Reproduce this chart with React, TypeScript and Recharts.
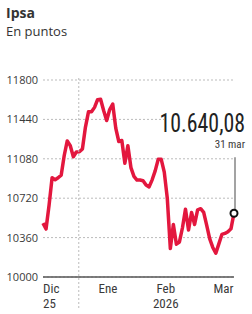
import { LineChart, Line, XAxis, YAxis, CartesianGrid, ReferenceDot } from "recharts";

// Ipsa closing values, one per trading session
const VALUES = [
  10492, 10438, 10656, 10907, 10889, 10907, 10930, 11110, 11243, 11200,
  11098, 11142, 11144, 11170, 11370, 11509, 11509, 11550, 11620, 11624,
  11521, 11430, 11530, 11580, 11360, 11238, 11247, 11040, 11200, 11000,
  10920, 10886, 10886, 10880, 10840, 10823, 10888, 10970, 11075, 11075,
  10958, 10718, 10260, 10480, 10300, 10320, 10450, 10620, 10430, 10590,
  10480, 10614, 10624, 10590, 10472, 10348, 10270, 10218, 10303, 10389,
  10398, 10414, 10440, 10583,
];

const Y_TICKS = [10000, 10360, 10720, 11080, 11440, 11800];

// month ticks: position in sessions, label lines, anchor
const X_TICK_POS = [0, 21.4, 40.5, 59.5];
const X_TICK_LINES = [["Dic", "25"], ["Ene"], ["Feb", "2026"], ["Mar"]];
const X_TICK_ANCHOR = ["start", "middle", "middle", "middle"];
const YEAR_BREAK = 11.8;

const LAST_LABEL = "10.640,08";
const LAST_DATE = "31 mar";

const data = VALUES.map((v, i) => ({ i, v }));

const RED = "#e3173e";
const TEXT = "#3a3a3a";
const NARROW = "'Liberation Sans Narrow', 'Roboto Condensed', Roboto, sans-serif";

function MonthTick(props: any) {
  const { x, y, payload } = props;
  if (payload.value === YEAR_BREAK) {
    return (
      <line x1={x} x2={x} y1={y - 199} y2={y + 33} stroke="#bbb" strokeDasharray="2 2" />
    );
  }
  const idx = X_TICK_POS.indexOf(payload.value);
  if (idx < 0) return null;
  return (
    <text x={x} y={y} textAnchor={X_TICK_ANCHOR[idx]} fill={TEXT} fontSize={13} fontFamily={NARROW}>
      {X_TICK_LINES[idx].map((t, k) => (
        <tspan key={k} x={x} dy={k === 0 ? 16 : 15}>
          {t}
        </tspan>
      ))}
    </text>
  );
}

function Callout(props: any) {
  const { cx, cy } = props;
  return (
    <g>
      <rect x={cx - 70} y={cy - 102} width={82} height={26} fill="#fff" />
      <line x1={cx + 1} x2={cx + 1} y1={cy - 56} y2={cy} stroke="#666" strokeWidth={1.2} />
      <circle cx={cx} cy={cy} r={3.5} fill="#fff" stroke="#111" strokeWidth={2} />
      <g transform={`translate(${cx + 11}, ${cy - 81}) scale(0.84, 1)`}>
        <text x={0} y={0} textAnchor="end" fontSize={26} fill="#222" fontFamily={NARROW}>
          {LAST_LABEL}
        </text>
      </g>
      <text x={cx + 11} y={cy - 65} textAnchor="end" fontSize={11} fill={TEXT} fontFamily={NARROW}>
        {LAST_DATE}
      </text>
    </g>
  );
}

export default function App() {
  return (
    <div style={{ position: "absolute", top: 0, left: 0, width: 252, height: 314, background: "#fff" }}>
      <div
        style={{
          position: "absolute",
          left: 6,
          top: 4,
          fontFamily: "'Open Sans', sans-serif",
          color: "#333",
          lineHeight: "18px",
        }}
      >
        <div style={{ fontWeight: 700, fontSize: 14 }}>Ipsa</div>
        <div style={{ fontSize: 13 }}>En puntos</div>
      </div>
      <LineChart
        width={252}
        height={314}
        data={data}
        margin={{ top: 80, right: 18, bottom: 0, left: 0 }}
        style={{ position: "absolute", top: 0, left: 0 }}
      >
        <CartesianGrid vertical={false} stroke="#bbb" strokeDasharray="2 2" />
        <XAxis
          dataKey="i"
          type="number"
          domain={[0, VALUES.length - 1]}
          ticks={[0, YEAR_BREAK, ...X_TICK_POS.slice(1)]}
          tick={<MonthTick />}
          tickLine={false}
          tickSize={0}
          tickMargin={0}
          height={37}
          axisLine={{ stroke: "#555", strokeWidth: 1.5 }}
          interval={0}
        />
        <YAxis
          domain={[10000, 11800]}
          ticks={Y_TICKS}
          width={43}
          axisLine={false}
          tickLine={false}
          tickSize={3}
          tickMargin={2}
          tick={{ fill: TEXT, fontSize: 11, fontFamily: "'Open Sans', sans-serif" }}
        />
        <Line
          dataKey="v"
          stroke={RED}
          strokeWidth={3.5}
          dot={false}
          strokeLinejoin="round"
          isAnimationActive={false}
        />
        <ReferenceDot
          x={VALUES.length - 1}
          y={VALUES[VALUES.length - 1]}
          r={4}
          shape={<Callout />}
          ifOverflow="visible"
        />
      </LineChart>
    </div>
  );
}
